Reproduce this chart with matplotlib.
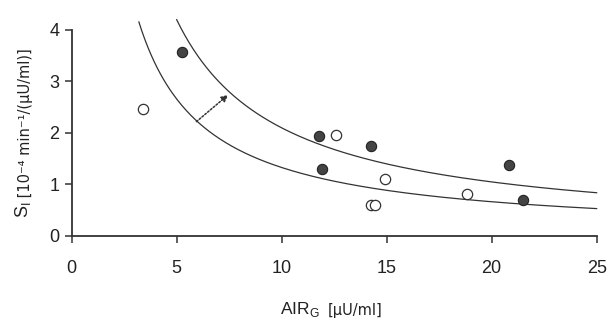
import numpy as np
import matplotlib
matplotlib.use("Agg")
import matplotlib.pyplot as plt

plt.rcParams['font.family'] = ['Liberation Sans', 'DejaVu Sans']

# Data
filled_x = [5.24, 11.79, 11.92, 14.25, 20.81, 21.5]
filled_y = [3.57, 1.95, 1.31, 1.75, 1.37, 0.70]
open_x = [3.38, 12.59, 14.92, 14.24, 14.44, 18.81]
open_y = [2.47, 1.97, 1.11, 0.60, 0.60, 0.81]
# hyperbola constants (disposition index S_I * AIR_G) for the two curves
curve_consts = [13.3, 21.0]
curve_x_start = [3.2, 5.0]
arrow_start = (5.94, 2.22)
arrow_end = (7.45, 2.74)
xticks = [0, 5, 10, 15, 20, 25]
yticks = [0, 1, 2, 3, 4]

fig = plt.figure(figsize=(6.09, 3.28), dpi=100)
ax = fig.add_axes([0.1177, 0.2805, 0.862, 0.6595])
ax.set_xlim(0, 25)
ax.set_ylim(0, 4.2)

for c, xs in zip(curve_consts, curve_x_start):
    xx = np.linspace(xs, 25, 300)
    ax.plot(xx, c / xx, color='#333333', lw=0.9, clip_on=False)

ax.scatter(filled_x, filled_y, s=55, facecolor='#444444', edgecolor='#222222',
           linewidth=0.8, zorder=3)
ax.scatter(open_x, open_y, s=55, facecolor='white', edgecolor='#333333',
           linewidth=0.9, zorder=3)

ax.annotate('', xy=arrow_end, xytext=arrow_start,
            arrowprops=dict(arrowstyle='-|>', linestyle=(0, (1.2, 1.2)),
                            color='#333333', lw=1.1, mutation_scale=10,
                            shrinkA=0, shrinkB=0))

for s in ['top', 'right']:
    ax.spines[s].set_visible(False)
ax.spines['left'].set_bounds(0, 4)
ax.spines['left'].set_linewidth(1.3)
ax.spines['bottom'].set_linewidth(1.3)
ax.spines['left'].set_color('#333333')
ax.spines['bottom'].set_color('#333333')

ax.set_xticks(xticks)
ax.set_yticks(yticks)
ax.tick_params(axis='both', direction='out', length=5, width=1.1,
               colors='#333333', labelsize=13, labelcolor='#222222')
ax.tick_params(axis='x', pad=12)
ax.tick_params(axis='y', pad=4)

small_font = ['DejaVu Sans']

# x label
t1 = fig.text(0.46, 0.027, r'AIR$_{\mathregular{G}}$', fontsize=12.5,
              color='#222222', ha='left', va='bottom')
ax.annotate('[μU/ml]', xy=(1, 0), xycoords=t1, xytext=(6, 1.0),
            textcoords='offset points', fontsize=10.5, family=small_font,
            color='#222222', ha='left', va='bottom', annotation_clip=False)

# y label
t2 = fig.text(0.022, 0.335, r'S$_{\mathregular{I}}$', fontsize=13,
              color='#222222', ha='left', va='bottom', rotation=90)
ax.annotate(' [10⁻⁴ min⁻¹/(μU/ml)]', xy=(1, 1), xycoords=t2,
            xytext=(-0.5, 0), textcoords='offset points',
            fontsize=10.5, family=small_font, color='#222222',
            ha='right', va='bottom', rotation=90, annotation_clip=False)

fig.savefig('out.png', dpi=100)
